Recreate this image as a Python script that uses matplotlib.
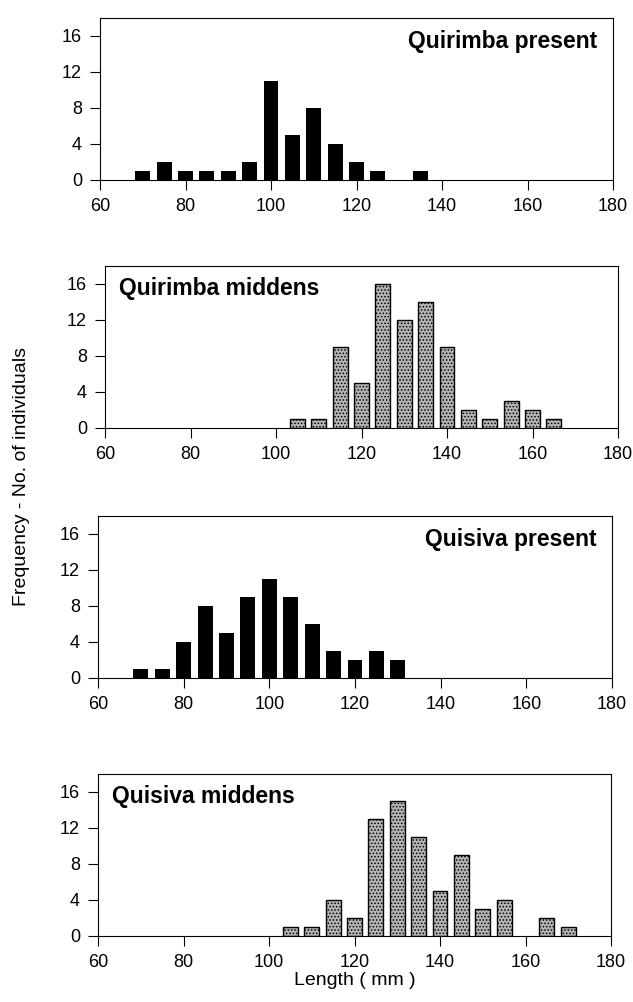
import matplotlib
matplotlib.use("Agg")
import matplotlib.pyplot as plt

plt.rcParams['font.family'] = ['Liberation Sans', 'DejaVu Sans']
plt.rcParams['hatch.linewidth'] = 0.7

# length classes (mm) and counts
quirimba_present_x = [70, 75, 80, 85, 90, 95, 100, 105, 110, 115, 120, 125, 135]
quirimba_present_n = [1, 2, 1, 1, 1, 2, 11, 5, 8, 4, 2, 1, 1]

quirimba_middens_x = [105, 110, 115, 120, 125, 130, 135, 140, 145, 150, 155, 160, 165]
quirimba_middens_n = [1, 1, 9, 5, 16, 12, 14, 9, 2, 1, 3, 2, 1]

quisiva_present_x = [70, 75, 80, 85, 90, 95, 100, 105, 110, 115, 120, 125, 130]
quisiva_present_n = [1, 1, 4, 8, 5, 9, 11, 9, 6, 3, 2, 3, 2]

quisiva_middens_x = [105, 110, 115, 120, 125, 130, 135, 140, 145, 150, 155, 165, 170]
quisiva_middens_n = [1, 1, 4, 2, 13, 15, 11, 5, 9, 3, 4, 2, 1]

titles = ["Quirimba present", "Quirimba middens", "Quisiva present", "Quisiva middens"]
x_ticks = [60, 80, 100, 120, 140, 160, 180]
y_ticks = [0, 4, 8, 12, 16]

fig = plt.figure(figsize=(6.33, 10.02), dpi=100)

# axes boxes in pixels: left, bottom (y=0 line), width
boxes = [(100, 180, 513), (105, 428, 513), (98, 678, 514), (98, 936, 513)]
H = 162

series = [
    (quirimba_present_x, quirimba_present_n, False),
    (quirimba_middens_x, quirimba_middens_n, True),
    (quisiva_present_x, quisiva_present_n, False),
    (quisiva_middens_x, quisiva_middens_n, True),
]

for i, ((l, b, w), (xs, ns, stipple), title) in enumerate(zip(boxes, series, titles)):
    ax = fig.add_axes([l / 633, 1 - b / 1002, w / 633, H / 1002])
    if stipple:
        ax.bar(xs, ns, width=3.5, facecolor='#b4b4b4', edgecolor='black',
               linewidth=1.0, hatch='.....')
    else:
        ax.bar(xs, ns, width=3.5, color='black')
    ax.set_xlim(60, 180)
    ax.set_ylim(0, 18)
    ax.set_xticks(x_ticks)
    ax.set_yticks(y_ticks)
    ax.tick_params(direction='out', length=7, width=0.8, labelsize=13, pad=6)
    for s in ax.spines.values():
        s.set_linewidth(0.8)

    # panel label: right aligned for present, left for middens
    if stipple:
        ax.annotate(title, xy=(0, 1), xycoords='axes fraction',
                    xytext=(10, -16), textcoords='offset points',
                    ha='left', va='center', fontsize=16.5, fontweight='bold')
    else:
        ax.annotate(title, xy=(1, 1), xycoords='axes fraction',
                    xytext=(-11, -17), textcoords='offset points',
                    ha='right', va='center', fontsize=16.5, fontweight='bold')

    if i == 3:
        ax.set_xlabel('Length ( mm )', fontsize=14, labelpad=1)

fig.text(22 / 633, 1 - 476 / 1002, 'Frequency - No. of individuals',
         rotation=90, ha='center', va='center', fontsize=14)

fig.savefig('out.png', dpi=100)
